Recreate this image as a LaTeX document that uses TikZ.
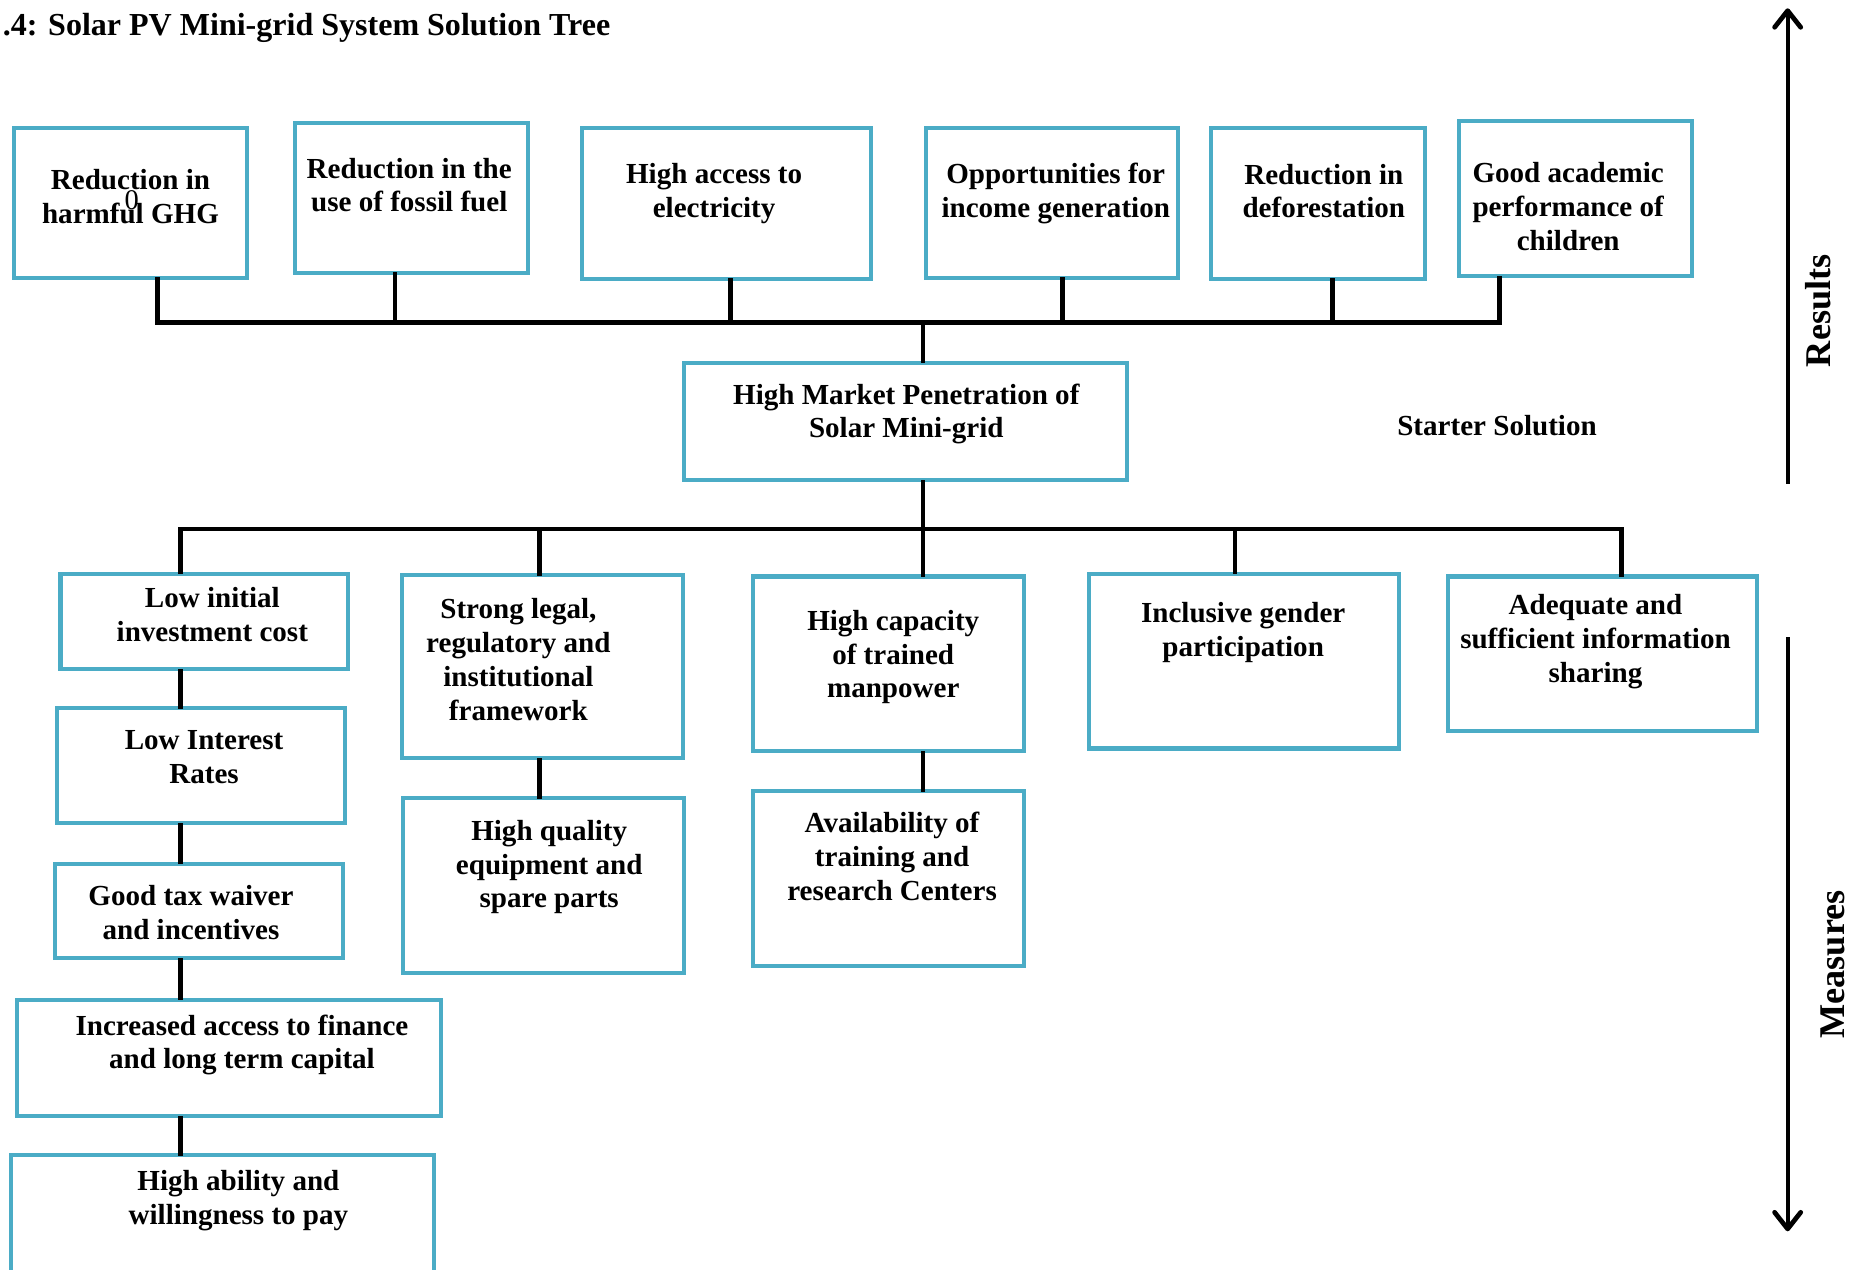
\documentclass[tikz,border=0pt]{standalone}
\usepackage{fontspec}
\setmainfont{Liberation Serif}
\usetikzlibrary{arrows.meta}
\definecolor{boxcol}{RGB}{75,172,198}
\begin{document}
\begin{tikzpicture}[x=0.5pt,y=-0.5pt,
  box/.style={draw=boxcol, line width=1.7pt, rectangle, inner sep=0pt},
  sz/.style 2 args={minimum width=#1*0.5pt, minimum height=#2*0.5pt},
  txt/.style={align=center, inner sep=0pt, font=\fontsize{12.25pt}{14.2pt}\selectfont\bfseries},
  conn/.style={draw=black, line width=2pt, line cap=rect},
  arr/.style={draw=black, line width=1.7pt, -{Straight Barb[length=7pt,width=11pt,line width=2pt,round]}},
  side/.style={inner sep=0pt, font=\fontsize{15.25pt}{17pt}\selectfont\bfseries, rotate=90}]
\useasboundingbox (0,0) rectangle (1568,1070);

% title
\node[anchor=base west, inner sep=0pt, font=\fontsize{13.5pt}{16pt}\selectfont\bfseries] (title) at (2,30) {.4: Solar PV Mini-grid System Solution Tree};

% result boxes
\node[box, sz={196}{126}] (r1) at (110,171) {};
\node[box, sz={196}{126}] (r2) at (347,167) {};
\node[box, sz={243}{127}] (r3) at (612.5,171.5) {};
\node[box, sz={212}{126}] (r4) at (887,171) {};
\node[box, sz={180}{127}] (r5) at (1111,171.5) {};
\node[box, sz={196}{131}] (r6) at (1328,167.5) {};
\node[txt] (t1) at (110,166) {Reduction in\\harmful GHG};
\node[inner sep=0pt, font=\fontsize{12pt}{14pt}\selectfont] (t1b) at (111,169) {0};
\node[txt] (t2) at (345,156) {Reduction in the\\use of fossil fuel};
\node[txt] (t3) at (602,163) {High access to\\electricity};
\node[txt] (t4) at (890,163) {Opportunities for\\income generation};
\node[txt] (t5) at (1116,161) {Reduction in\\deforestation};
\node[txt] (t6) at (1322,174) {Good academic\\performance of\\children};

% hub
\node[box, sz={373}{99}] (hub) at (763.5,355.5) {};
\node[txt] (th) at (764,349) {High Market Penetration of\\Solar Mini-grid};
\node[txt] (starter) at (1262,359) {Starter Solution};

% measure boxes
\node[box, sz={242}{80}] (m1) at (172,524) {};
\node[box, sz={243}{97}] (m2) at (169.5,645.5) {};
\node[box, sz={243}{80}] (m3) at (167.5,768) {};
\node[box, sz={358}{98}] (m4) at (193,892) {};
\node[box, sz={357}{101}] (m5) at (187.5,1024.5) {};
\node[box, sz={237}{154}] (l1) at (457.5,562) {};
\node[box, sz={237}{147}] (l2) at (458.5,746.5) {};
\node[box, sz={228}{147}] (c1) at (749,559.5) {};
\node[box, sz={228}{147}] (c2) at (749,740.5) {};
\node[box, sz={261}{147}] (g1) at (1048.5,557.5) {};
\node[box, sz={260}{130}] (a1) at (1351,551) {};

\node[txt] (tm1) at (179,518) {Low initial\\investment cost};
\node[txt] (tm2) at (172,638) {Low Interest\\Rates};
\node[txt] (tm3) at (161,769) {Good tax waiver\\and incentives};
\node[txt] (tm4) at (204,881) {Increased access to finance\\and long term capital};
\node[txt] (tm5) at (201,1012) {High ability and\\willingness to pay};
\node[txt] (tl1) at (437,556) {Strong legal,\\regulatory and\\institutional\\framework};
\node[txt] (tl2) at (463,731) {High quality\\equipment and\\spare parts};
\node[txt] (tc1) at (753,554) {High capacity\\of trained\\manpower};
\node[txt] (tc2) at (752,722) {Availability of\\training and\\research Centers};
\node[txt] (tg1) at (1048,533) {Inclusive gender\\participation};
\node[txt] (ta1) at (1345,541) {Adequate and\\sufficient information\\sharing};

% upper connectors
\coordinate (b1) at (133,272);
\coordinate (b2) at (333,272);
\coordinate (b3) at (616,272);
\coordinate (b4) at (896,272);
\coordinate (b5) at (1123,272);
\coordinate (b6) at (1264,272);
\coordinate (bh) at (778,272);
\draw[conn] (b1) -- (b6);
\draw[conn] (b1) -- (b1 |- r1.south);
\draw[conn] (b2) -- (b2 |- r2.south);
\draw[conn] (b3) -- (b3 |- r3.south);
\draw[conn] (b4) -- (b4 |- r4.south);
\draw[conn] (b5) -- (b5 |- r5.south);
\draw[conn] (b6) -- (b6 |- r6.south);
\draw[conn] (bh) -- (bh |- hub.north);

% lower connectors
\coordinate (k1) at (152,446);
\coordinate (k2) at (455,446);
\coordinate (k3) at (778,446);
\coordinate (k4) at (1041,446);
\coordinate (k5) at (1367,446);
\draw[conn] (k1) -- (k5);
\draw[conn] (k3 |- hub.south) -- (k3);
\draw[conn] (k1) -- (k1 |- m1.north);
\draw[conn] (k2) -- (k2 |- l1.north);
\draw[conn] (k3) -- (k3 |- c1.north);
\draw[conn] (k4) -- (k4 |- g1.north);
\draw[conn] (k5) -- (k5 |- a1.north);
\draw[conn] (k1 |- m1.south) -- (k1 |- m2.north);
\draw[conn] (k1 |- m2.south) -- (k1 |- m3.north);
\draw[conn] (k1 |- m3.south) -- (k1 |- m4.north);
\draw[conn] (k1 |- m4.south) -- (k1 |- m5.north);
\draw[conn] (k2 |- l1.south) -- (k2 |- l2.north);
\draw[conn] (k3 |- c1.south) -- (k3 |- c2.north);

% side arrows
\coordinate (ua) at (1507,408);
\coordinate (ub) at (1507,7);
\coordinate (da) at (1507,537);
\coordinate (db) at (1507,1038);
\draw[arr] (ua) -- (ub);
\draw[arr] (da) -- (db);
\node[side] (res) at (1533,262) {Results};
\node[side] (mea) at (1545,813) {Measures};
\end{tikzpicture}
\end{document}
